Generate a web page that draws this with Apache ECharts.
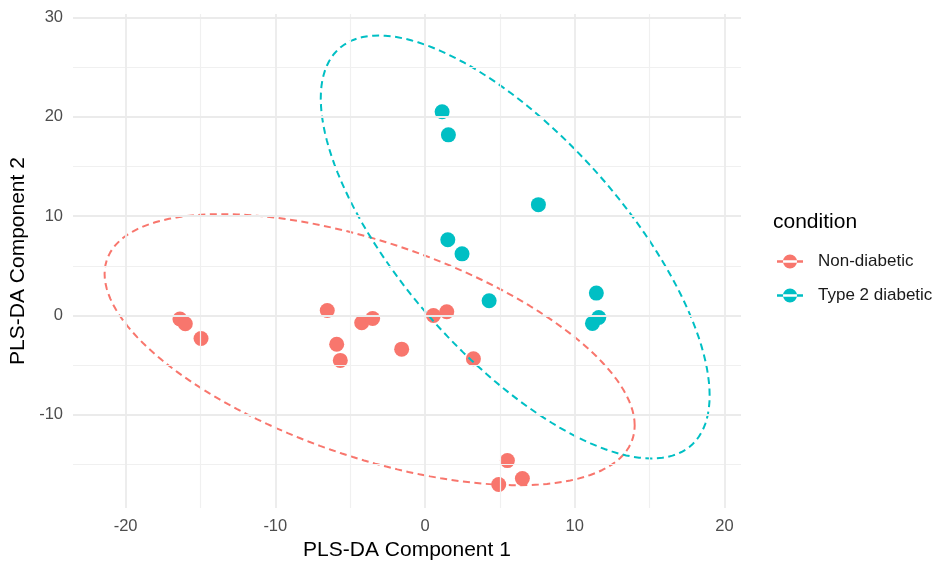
<!DOCTYPE html>
<html>
<head>
<meta charset="utf-8">
<script src="https://cdn.jsdelivr.net/npm/echarts@6/dist/echarts.min.js"></script>
<style>
  html, body { margin: 0; padding: 0; background: #fff; }
  #chart { width: 936px; height: 562px; }
</style>
</head>
<body>
<div id="chart"></div>
<script>
// points: [component 1, component 2]
const nonDiabetic = [
  [-16.37, -0.36], [-16.01, -0.83], [-14.96, -2.31], [-6.53, 0.50],
  [-5.90, -2.89], [-5.66, -4.52], [-4.23, -0.73], [-3.50, -0.30],
  [-1.56, -3.39], [0.56, 0.00], [1.45, 0.37], [3.23, -4.36],
  [5.50, -14.60], [6.50, -16.40], [4.92, -17.01]
]
const type2Diabetic = [
  [1.14, 20.49], [1.56, 18.17], [7.57, 11.15], [1.52, 7.62],
  [2.47, 6.20], [4.28, 1.48], [11.44, 2.25], [11.60, -0.20],
  [11.18, -0.80]
]

// ellipse shape: centre and spread [xx, xy, yy]
const nonDiabeticCenter = [-3.70, -3.44]
const nonDiabeticSpread = [313.3, -135.0, 186.0]
const type2Center = [6.02, 6.89]
const type2Spread = [168.6, -194.0, 452.8]

const xTicks = [-20, -10, 0, 10, 20]
const xMinor = [-15, -5, 5, 15]
const yTicks = [-10, 0, 10, 20, 30]
const yMinor = [-15, -5, 5, 15, 25]

const RED = '#F8766D'
const TEAL = '#00BFC4'
const FONT = '"Liberation Sans", Arial, sans-serif'

function ellipsePath(center, spread) {
  const l11 = Math.sqrt(spread[0])
  const l21 = spread[1] / l11
  const l22 = Math.sqrt(spread[2] - l21 * l21)
  const pts = []
  for (let i = 0; i <= 150; i++) {
    const t = (i / 150) * Math.PI * 2
    pts.push([center[0] + l11 * Math.cos(t), center[1] + l21 * Math.cos(t) + l22 * Math.sin(t)])
  }
  return pts
}

const major = { color: '#ebebeb', width: 1.8, type: 'solid' }
const minor = { color: '#f0f0f0', width: 1.2, type: 'solid' }
const gridLines = [].concat(
  xMinor.map(v => ({ xAxis: v, lineStyle: minor })),
  yMinor.map(v => ({ yAxis: v, lineStyle: minor })),
  xTicks.map(v => ({ xAxis: v, lineStyle: major })),
  yTicks.map(v => ({ yAxis: v, lineStyle: major }))
)

const legendIcon = 'path://M0,5.8L26,5.8L26,8.2L0,8.2Z M6,7A7,7 0 1 0 20,7A7,7 0 1 0 6,7Z'

const chart = echarts.init(document.getElementById('chart'), null, { renderer: 'canvas' })

chart.setOption({
  animation: false,
  backgroundColor: '#fff',
  grid: { left: 73, top: 14, width: 668, height: 494, containLabel: false, outerBoundsMode: 'none' },
  title: {
    text: 'condition',
    left: 773,
    top: 212,
    padding: 0,
    textStyle: { fontFamily: FONT, fontSize: 21, fontWeight: 'normal', color: '#000' }
  },
  legend: {
    orient: 'vertical',
    left: 777,
    top: 253,
    padding: 0,
    itemWidth: 26,
    itemHeight: 14,
    itemGap: 17,
    selectedMode: false,
    data: [
      { name: 'Non-diabetic', icon: legendIcon, itemStyle: { color: RED } },
      { name: 'Type 2 diabetic', icon: legendIcon, itemStyle: { color: TEAL } }
    ],
    textStyle: { fontFamily: FONT, fontSize: 17, color: '#1a1a1a', padding: [0, 0, 0, 10] }
  },
  xAxis: {
    type: 'value',
    min: -23.51,
    max: 21.1,
    name: 'PLS-DA Component 1',
    nameLocation: 'middle',
    nameGap: 32,
    nameTextStyle: { fontFamily: FONT, fontSize: 21, color: '#000' },
    axisLine: { show: false },
    axisTick: { show: false },
    splitLine: { show: false },
    axisLabel: {
      customValues: xTicks,
      margin: 10,
      fontFamily: FONT,
      fontSize: 16.5,
      color: '#4d4d4d',
      formatter: v => (xTicks.includes(v) ? String(v) : '')
    }
  },
  yAxis: {
    type: 'value',
    min: -19.37,
    max: 30.33,
    name: 'PLS-DA Component 2',
    nameLocation: 'middle',
    nameGap: 36,
    nameTextStyle: { fontFamily: FONT, fontSize: 21, color: '#000' },
    axisLine: { show: false },
    axisTick: { show: false },
    splitLine: { show: false },
    axisLabel: {
      customValues: yTicks,
      margin: 10,
      fontFamily: FONT,
      fontSize: 16.5,
      color: '#4d4d4d',
      formatter: v => (yTicks.includes(v) ? String(v) : '')
    }
  },
  series: [
    {
      type: 'scatter',
      name: 'grid',
      data: [],
      silent: true,
      z: 0,
      markLine: {
        silent: true,
        symbol: ['none', 'none'],
        label: { show: false },
        emphasis: { disabled: true },
        data: gridLines
      }
    },
    {
      type: 'scatter',
      name: 'Non-diabetic',
      data: nonDiabetic,
      symbolSize: 15,
      itemStyle: { color: RED, opacity: 1 },
      z: 2
    },
    {
      type: 'scatter',
      name: 'Type 2 diabetic',
      data: type2Diabetic,
      symbolSize: 15,
      itemStyle: { color: TEAL, opacity: 1 },
      z: 2
    },
    {
      type: 'line',
      name: 'Non-diabetic',
      data: ellipsePath(nonDiabeticCenter, nonDiabeticSpread),
      showSymbol: false,
      smooth: false,
      color: RED,
      lineStyle: { color: RED, width: 2, type: [7, 4.5] },
      z: 3
    },
    {
      type: 'line',
      name: 'Type 2 diabetic',
      data: ellipsePath(type2Center, type2Spread),
      showSymbol: false,
      smooth: false,
      color: TEAL,
      lineStyle: { color: TEAL, width: 2, type: [7, 4.5] },
      z: 3
    }
  ]
})
</script>
</body>
</html>
